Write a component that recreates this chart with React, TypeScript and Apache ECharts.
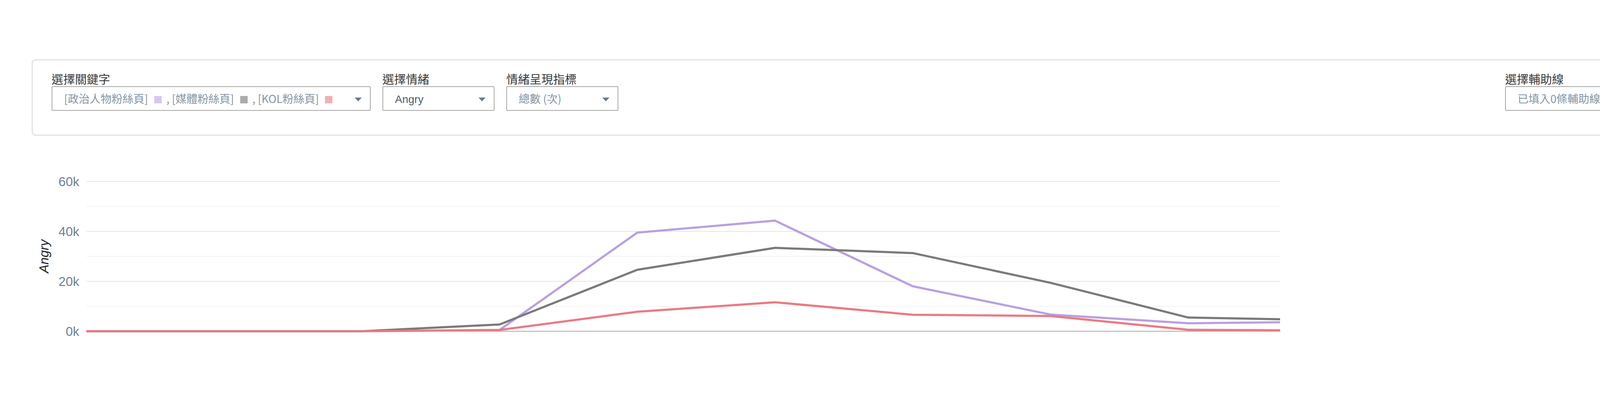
import React, { useEffect, useRef } from "react";
import * as echarts from "echarts";

// weekly index on x; the last point is a partial week
const xPoints = [0, 1, 2, 3, 4, 5, 6, 7, 8, 8.667];
const politicianFans = [0, 0, 0, 500, 39500, 44300, 18000, 6700, 3200, 3600];
const mediaFans = [0, 0, 0, 2700, 24600, 33400, 31300, 19400, 5500, 4800];
const kolFans = [0, 0, 0, 500, 7800, 11600, 6600, 6100, 600, 400];
const seriesNames = ["[政治人物粉絲頁]", "[媒體粉絲頁]", "[KOL粉絲頁]"];
const lineColors = ["#b9a0e1", "#7a7a7a", "#e97b83"];
const chipColors = ["#d7c7ef", "#ababab", "#f1b0b5"];

const CJK = '"Noto Sans CJK TC", "Liberation Sans", sans-serif';

const Arrow = () => (
  <span
    style={{
      position: "absolute",
      right: 21,
      top: 27,
      width: 0,
      height: 0,
      borderLeft: "9px solid transparent",
      borderRight: "9px solid transparent",
      borderTop: "10px solid #6c7b8d",
    }}
  />
);

const Field = ({
  left,
  width,
  label,
  children,
}: {
  left: number;
  width: number;
  label: string;
  children: React.ReactNode;
}) => (
  <div style={{ position: "absolute", left, top: 184 }}>
    <div style={{ fontSize: 30, lineHeight: "34px", color: "#3a3a3a", fontFamily: CJK }}>{label}</div>
    <div
      style={{
        position: "absolute",
        top: 37,
        left: 0,
        width,
        height: 63,
        boxSizing: "border-box",
        border: "2px solid #a9a9a9",
        borderRadius: 3,
        background: "#fff",
        fontFamily: CJK,
        fontSize: 28,
        lineHeight: "59px",
        paddingLeft: 30,
        whiteSpace: "nowrap",
        color: "#8494a6",
      }}
    >
      {children}
      <Arrow />
    </div>
  </div>
);

const App = () => {
  const chartRef = useRef<HTMLDivElement>(null);

  useEffect(() => {
    if (!chartRef.current) return;
    const chart = echarts.init(chartRef.current, null, { renderer: "svg" });
    const all = [politicianFans, mediaFans, kolFans];

    chart.setOption({
      animation: false,
      grid: { left: 221, right: 1055, top: 65, bottom: 151 },
      xAxis: {
        type: "value",
        min: 0,
        max: xPoints[xPoints.length - 1],
        axisLine: { show: true, lineStyle: { color: "#aaaaaa", width: 2 } },
        axisTick: { show: false },
        axisLabel: { show: false },
        splitLine: { show: false },
      },
      yAxis: {
        type: "value",
        min: 0,
        max: 60000,
        interval: 20000,
        name: "Angry",
        nameLocation: "middle",
        nameGap: 92,
        nameTextStyle: {
          fontSize: 33,
          fontStyle: "italic",
          color: "#222",
          fontFamily: "Liberation Sans, Arial, sans-serif",
        },
        axisLine: { show: false },
        axisTick: { show: false },
        axisLabel: {
          color: "#6f8095",
          fontSize: 33,
          margin: 18,
          fontFamily: "Liberation Sans, Arial, sans-serif",
          formatter: (v: number) => `${v / 1000}k`,
        },
        splitLine: { lineStyle: { color: "#e6e6e6", width: 2 } },
        minorTick: { show: false, splitNumber: 2 },
        minorSplitLine: { show: true, lineStyle: { color: "#f4f4f4", width: 2 } },
      },
      series: all.map((vals, i) => ({
        name: seriesNames[i],
        type: "line",
        symbol: "none",
        data: vals.map((v, j) => [xPoints[j], v]),
        lineStyle: { color: lineColors[i], width: 5.5 },
        itemStyle: { color: lineColors[i] },
      })),
    });

    return () => chart.dispose();
  }, []);

  const chip = (c: string) => (
    <span
      style={{
        display: "inline-block",
        width: 19,
        height: 19,
        background: c,
        margin: "0 12px 0 16px",
        verticalAlign: "-1px",
      }}
    />
  );

  return (
    <div style={{ position: "absolute", left: 0, top: 0, width: 4332, height: 1056, background: "#fff" }}>
      <div
        style={{
          position: "absolute",
          left: 81,
          top: 152,
          width: 4169,
          height: 196,
          boxSizing: "border-box",
          border: "3px solid #e2e2e2",
          borderRadius: 9,
        }}
      />
      <Field left={132} width={817} label="選擇關鍵字">
        <span>
          {seriesNames[0]}
          {chip(chipColors[0])}, {seriesNames[1]}
          {chip(chipColors[1])}, {seriesNames[2]}
          {chip(chipColors[2])}
        </span>
      </Field>
      <Field left={979} width={287} label="選擇情緒">
        <span style={{ color: "#4d5b6c", fontFamily: "Liberation Sans, Arial, sans-serif" }}>Angry</span>
      </Field>
      <Field left={1296} width={287} label="情緒呈現指標">
        <span>總數 (次)</span>
      </Field>
      <Field left={3853} width={346} label="選擇輔助線">
        <span>已填入0條輔助線</span>
      </Field>
      <div ref={chartRef} style={{ position: "absolute", left: 0, top: 400, width: 4332, height: 600 }} />
    </div>
  );
};

export default App;
